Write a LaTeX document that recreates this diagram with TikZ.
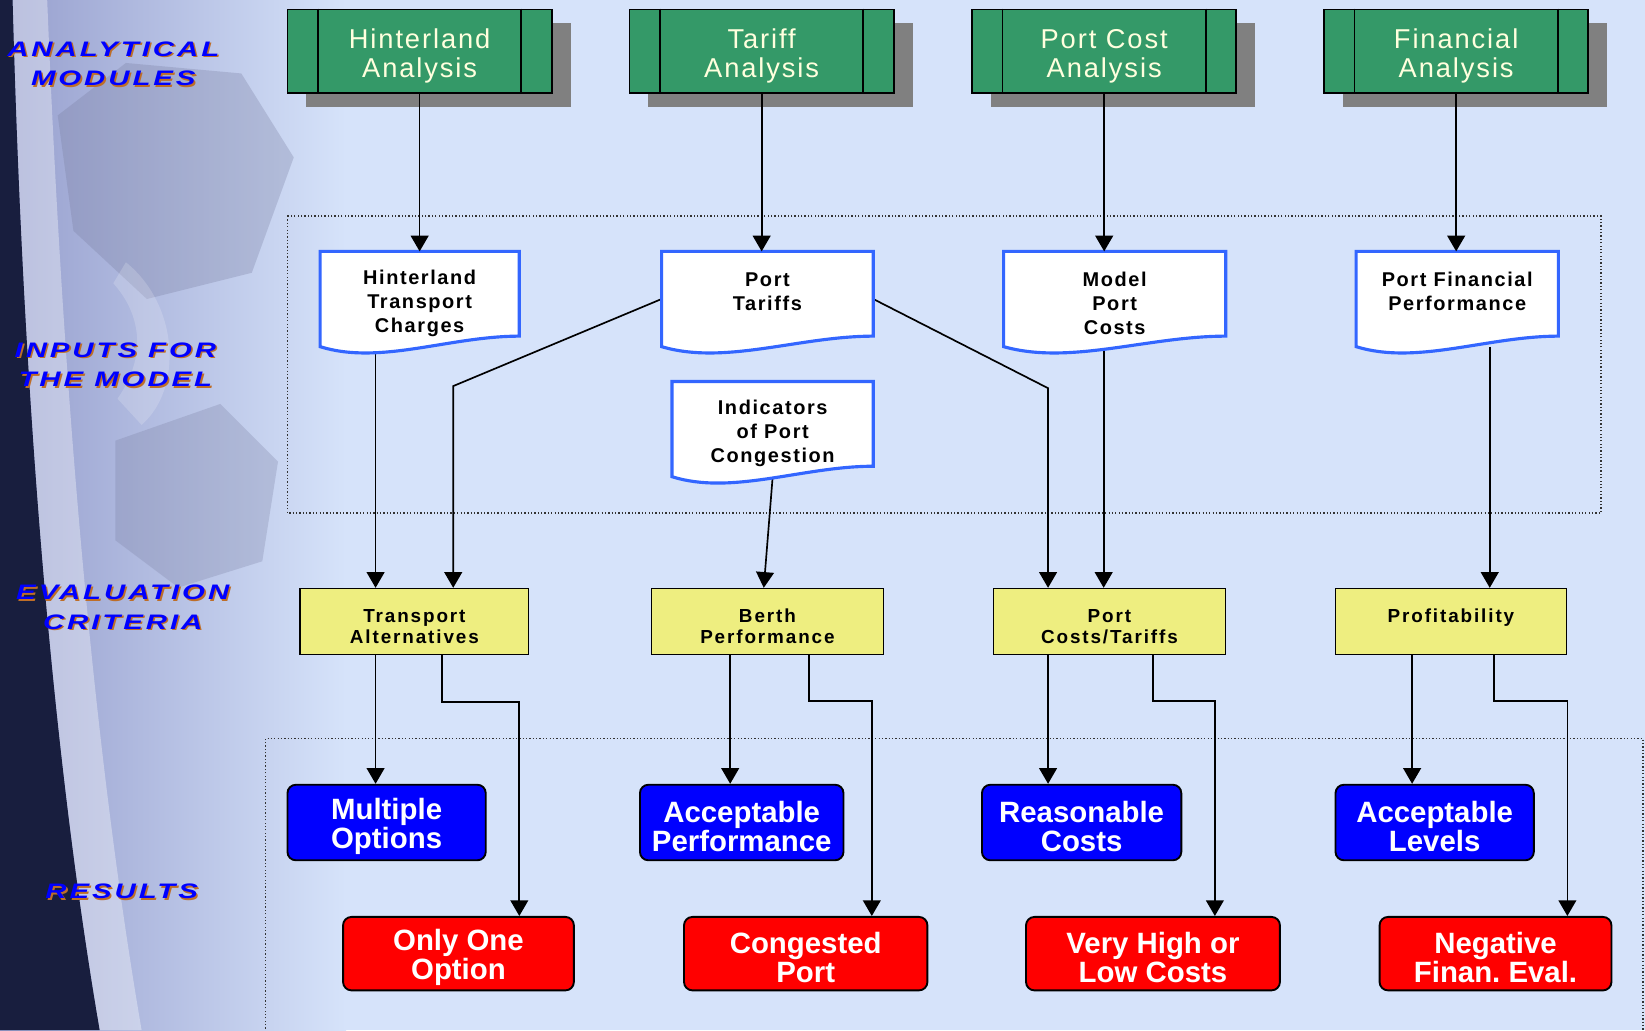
\documentclass[tikz,border=0pt]{standalone}
\usepackage{fontspec}
\setmainfont{Liberation Sans}
\usetikzlibrary{arrows.meta,shadows,calc}
\definecolor{bgblue}{RGB}{214,227,250}
\definecolor{wheelgray}{RGB}{150,158,205}
\definecolor{navy}{RGB}{24,30,62}
\definecolor{greenbox}{RGB}{52,153,104}
\definecolor{cream}{RGB}{255,255,222}
\definecolor{shgray}{RGB}{128,128,128}
\definecolor{docblue}{RGB}{51,102,255}
\definecolor{yel}{RGB}{238,238,128}
\definecolor{resblue}{RGB}{0,0,255}
\definecolor{resred}{RGB}{255,0,0}
\definecolor{lblshadow}{RGB}{190,110,40}
\definecolor{hubgray}{RGB}{120,125,160}
\pgfdeclarelayer{bgpic}
\pgfdeclarelayer{conn}
\pgfdeclarelayer{docs}
\pgfsetlayers{bgpic,conn,docs,main}
\newcommand\docshape[1]{%
  \begin{pgfonlayer}{docs}
  \filldraw[fill=white, draw=docblue, line width=1.5pt, line join=miter]
    (#1.north west) -- (#1.north east) -- ([yshift=5pt]#1.south east)
    .. controls ($(#1.south east)!0.35!(#1.south west)+(0,5pt)$) and ($(#1.south west)!0.3!(#1.south east)+(0,-9pt)$) .. (#1.south west) -- cycle;
  \end{pgfonlayer}}
\newcommand\greenlines[1]{%
  \draw[line width=0.9pt] ([xshift=15pt]#1.north west) -- ([xshift=15pt]#1.south west);
  \draw[line width=0.9pt] ([xshift=-15pt]#1.north east) -- ([xshift=-15pt]#1.south east);}
\newcommand\dn[1]{\rule{0pt}{#1}}
\begin{document}
\begin{tikzpicture}[x=0.5pt,y=-0.5pt,
  gbox/.style={draw=black, line width=0.9pt, fill=greenbox, minimum width=126pt, minimum height=40pt,
    inner sep=0pt, align=center, text=cream,
    font=\fontsize{13}{14}\selectfont\addfontfeature{LetterSpace=7},
    drop shadow={shadow xshift=9pt, shadow yshift=-6.5pt, fill=shgray, opacity=1}},
  docbox/.style={minimum height=45pt, inner sep=0pt, align=center,
    font=\bfseries\fontsize{9.5}{11.5}\selectfont\addfontfeature{LetterSpace=8}},
  ybox/.style={draw=black, line width=0.7pt, fill=yel, minimum height=31.5pt, inner sep=0pt, align=center,
    font=\bfseries\fontsize{9}{10}\selectfont\addfontfeature{LetterSpace=10}},
  rbox/.style={draw=black, line width=0.9pt, rounded corners=4pt, minimum height=36pt, inner sep=0pt,
    align=center, text=white, font=\bfseries\fontsize{14}{14}\selectfont},
  bluebox/.style={rbox, fill=resblue},
  redbox/.style={rbox, fill=resred, minimum height=35pt},
  arr/.style={draw=black, line width=0.8pt, -{Triangle[width=8.5pt,length=7.5pt]}},
  dotbox/.style={draw=black!80, line width=0.6pt, densely dotted},
  lbl/.style={inner sep=0pt, align=center, font=\bfseries\itshape\fontsize{10}{14}\selectfont\addfontfeature{LetterSpace=10}},
]
\useasboundingbox (0,0) rectangle (1568,982);

% ---------- background ----------
\begin{pgfonlayer}{bgpic}
\fill[bgblue] (0,0) rectangle (1568,982);
\shade[left color=wheelgray, right color=bgblue] (0,0) rectangle (330,982);
\fill[hubgray, opacity=0.30] (55,110) -- (120,60) -- (230,70) -- (280,150) -- (240,260) -- (140,285) -- (70,220) -- cycle;
\fill[hubgray, opacity=0.28] (110,420) -- (210,385) -- (265,440) -- (250,535) -- (170,560) -- (110,515) -- cycle;
\fill[white, opacity=0.18] (120,250) .. controls (170,290) and (175,370) .. (135,405) -- (112,380) .. controls (140,340) and (135,300) .. (108,270) -- cycle;
\fill[white, opacity=0.35] (12,0) .. controls (22,380) and (50,720) .. (95,982) -- (135,982) .. controls (90,720) and (60,380) .. (45,0) -- cycle;
\fill[navy] (0,0) -- (12,0) .. controls (22,380) and (50,720) .. (95,982) -- (0,982) -- cycle;
\end{pgfonlayer}

% ---------- side labels ----------
\node[lbl, text=lblshadow] (l1s) at (109.5,63.5) {\scalebox{1.4}[1]{\begin{tabular}{@{}c@{}}ANALYTICAL\\MODULES\end{tabular}}};
\node[lbl, text=blue] (l1) at (108,62) {\scalebox{1.4}[1]{\begin{tabular}{@{}c@{}}ANALYTICAL\\MODULES\end{tabular}}};
\node[lbl, text=lblshadow] (l2s) at (111.5,350.5) {\scalebox{1.4}[1]{\begin{tabular}{@{}c@{}}INPUTS FOR\\THE MODEL\end{tabular}}};
\node[lbl, text=blue] (l2) at (110,349) {\scalebox{1.4}[1]{\begin{tabular}{@{}c@{}}INPUTS FOR\\THE MODEL\end{tabular}}};
\node[lbl, text=lblshadow] (l3s) at (118.5,581.5) {\scalebox{1.4}[1]{\begin{tabular}{@{}c@{}}EVALUATION\\CRITERIA\end{tabular}}};
\node[lbl, text=blue] (l3) at (117,580) {\scalebox{1.4}[1]{\begin{tabular}{@{}c@{}}EVALUATION\\CRITERIA\end{tabular}}};
\node[lbl, text=lblshadow] (l4s) at (117.5,851.5) {\scalebox{1.4}[1]{RESULTS}};
\node[lbl, text=blue] (l4) at (116,850) {\scalebox{1.4}[1]{RESULTS}};

% ---------- dotted regions ----------
\begin{pgfonlayer}{conn}
\draw[dotbox] (274,206) rectangle (1526,489);
\draw[dotbox] (253,990) -- (253,704) -- (1566,704) -- (1566,990);
\end{pgfonlayer}

% ---------- analytical modules ----------
\node[gbox] (g1) at (400,49) {\dn{13.5pt}Hinterland\\Analysis};
\node[gbox] (g2) at (726,49) {\dn{13.5pt}Tariff\\Analysis};
\node[gbox] (g3) at (1052.5,49) {\dn{13.5pt}Port Cost\\Analysis};
\node[gbox] (g4) at (1388,49) {\dn{13.5pt}Financial\\Analysis};
\greenlines{g1}\greenlines{g2}\greenlines{g3}\greenlines{g4}

% ---------- inputs (documents) ----------
\node[docbox, minimum width=94.5pt] (d1) at (400,285) {\dn{11pt}Hinterland\\Transport\\Charges};
\node[docbox, minimum width=100.5pt] (d2) at (731.5,285) {\dn{11pt}Port\\Tariffs\\\mbox{}};
\node[docbox, minimum width=105.5pt] (d3) at (1062.5,285) {\dn{11pt}Model\\Port\\Costs};
\node[docbox, minimum width=96pt] (d4) at (1389,285) {\dn{11pt}Port Financial\\Performance\\\mbox{}};
\node[docbox, minimum width=95.5pt] (d5) at (736.5,409) {\dn{11pt}Indicators\\of Port\\Congestion};
\docshape{d1}\docshape{d2}\docshape{d3}\docshape{d4}\docshape{d5}

\draw[arr] (g1.south) -- (d1.north);
\draw[arr] (g2.south) -- (g2.south |- d2.north);
\draw[arr] (g3.south) -- (g3.south |- d3.north);
\draw[arr] (g4.south) -- (g4.south |- d4.north);

% ---------- evaluation criteria ----------
\node[ybox, minimum width=109pt] (y1) at (395,592.5) {\dn{11pt}Transport\\Alternatives};
\node[ybox, minimum width=110.5pt] (y2) at (731.5,592.5) {\dn{11pt}Berth\\Performance};
\node[ybox, minimum width=110.5pt] (y3) at (1057.5,592.5) {\dn{11pt}Port\\Costs/Tariffs};
\node[ybox, minimum width=110pt] (y4) at (1383,592.5) {\dn{11pt}Profitability\\\mbox{}};

\begin{pgfonlayer}{conn}
\draw[arr] (358,0 |- d1.south) -- (358,0 |- y1.north);
\draw[arr] (d2.west) -- (432,368) -- (432,0 |- y1.north);
\draw[arr] (d2.east) -- (999,370) -- (999,0 |- y3.north);
\draw[arr] (d5.south) -- (728,0 |- y2.north);
\draw[arr] (1052,0 |- d3.south) -- (1052,0 |- y3.north);
\draw[arr] (1420,0 |- d4.south) -- (1420,0 |- y4.north);
\end{pgfonlayer}

% ---------- results ----------
\node[bluebox, minimum width=94.5pt] (b1) at (368.5,784) {\dn{14pt}Multiple\\Options};
\node[bluebox, minimum width=97pt] (b2) at (707,784) {\dn{14pt}Acceptable\\Performance};
\node[bluebox, minimum width=95pt] (b3) at (1031,784) {\dn{14pt}Reasonable\\Costs};
\node[bluebox, minimum width=94.5pt] (b4) at (1367.5,784) {\dn{14pt}Acceptable\\Levels};

\node[redbox, minimum width=110pt] (r1) at (437,909) {\dn{14pt}Only One\\Option};
\node[redbox, minimum width=116pt] (r2) at (768,909) {\dn{14pt}Congested\\Port};
\node[redbox, minimum width=121pt] (r3) at (1099,909) {\dn{14pt}Very High or\\Low Costs};
\node[redbox, minimum width=110.5pt] (r4) at (1425.5,909) {\dn{14pt}Negative\\Finan.\ Eval.};

\draw[arr] (358,0 |- y1.south) -- (358,0 |- b1.north);
\draw[arr] (421,0 |- y1.south) |- (495,669) -- (495,0 |- r1.north);
\draw[arr] (696,0 |- y2.south) -- (696,0 |- b2.north);
\draw[arr] (771,0 |- y2.south) |- (831,668) -- (831,0 |- r2.north);
\draw[arr] (999,0 |- y3.south) -- (999,0 |- b3.north);
\draw[arr] (1099,0 |- y3.south) |- (1158,668) -- (1158,0 |- r3.north);
\draw[arr] (1346,0 |- y4.south) -- (1346,0 |- b4.north);
\draw[arr] (1424,0 |- y4.south) |- (1494,668) -- (1494,0 |- r4.north);
\end{tikzpicture}
\end{document}
